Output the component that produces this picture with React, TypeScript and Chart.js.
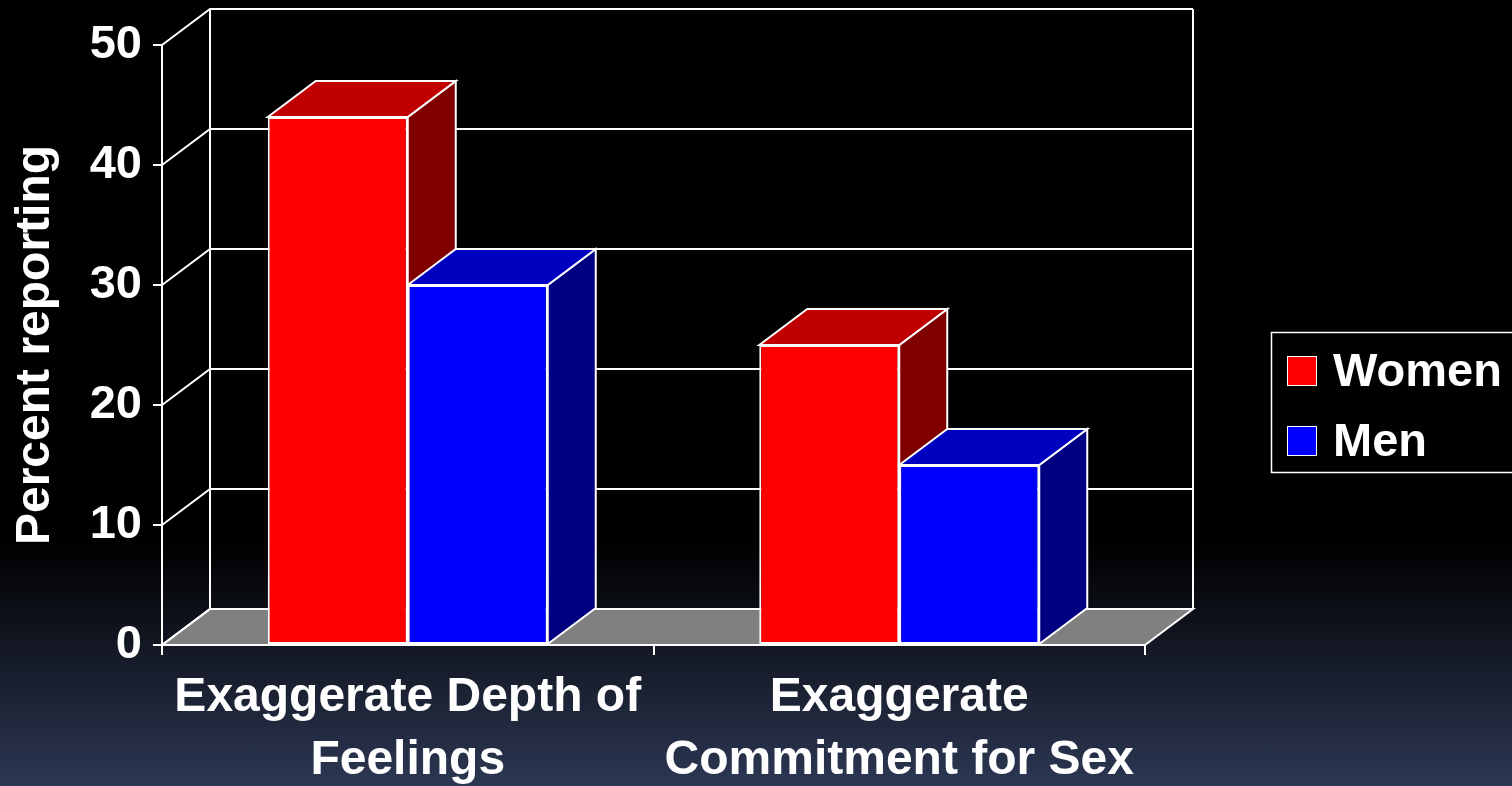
import React, { useEffect, useRef } from 'react';
import { Chart, registerables } from 'chart.js';

Chart.register(...registerables);

// ---- data ----
const categories: string[][] = [
  ['Exaggerate Depth of', 'Feelings'],
  ['Exaggerate', 'Commitment for Sex'],
];
const seriesNames = ['Women', 'Men'];
const womenValues = [44, 25];
const menValues = [30, 15];
const yTickValues = [0, 10, 20, 30, 40, 50];
const yAxisTitle = 'Percent reporting';

// ---- style ----
const FONT = "'Liberation Sans', Arial, Helvetica, sans-serif";
const DX = 48;
const DY = 36;
const faceColors = [
  { front: '#FF0000', top: '#C00000', side: '#800000' },
  { front: '#0000FF', top: '#0000C0', side: '#000080' },
];

const threeDPlugin = {
  id: 'threeD',
  beforeDatasetsDraw(chart: any) {
    const { ctx, chartArea } = chart;
    const { left, right } = chartArea;
    const yScale = chart.scales.y;
    ctx.save();
    ctx.strokeStyle = '#FFFFFF';
    ctx.lineWidth = 2;
    ctx.lineJoin = 'miter';

    // floor
    const y0 = yScale.getPixelForValue(0);
    ctx.beginPath();
    ctx.moveTo(left, y0);
    ctx.lineTo(left + DX, y0 - DY);
    ctx.lineTo(right + DX, y0 - DY);
    ctx.lineTo(right, y0);
    ctx.closePath();
    ctx.fillStyle = '#808080';
    ctx.fill();
    ctx.stroke();

    // side wall diagonals and back wall gridlines
    yTickValues.forEach((v) => {
      const py = yScale.getPixelForValue(v);
      ctx.beginPath();
      ctx.moveTo(left, py);
      ctx.lineTo(left + DX, py - DY);
      ctx.lineTo(right + DX, py - DY);
      ctx.stroke();
    });
    const yTop = yScale.getPixelForValue(yTickValues[yTickValues.length - 1]);
    ctx.beginPath();
    ctx.moveTo(left + DX, yTop - DY);
    ctx.lineTo(left + DX, y0 - DY);
    ctx.moveTo(right + DX, yTop - DY);
    ctx.lineTo(right + DX, y0 - DY);
    ctx.stroke();

    // bar top and side faces
    chart.data.datasets.forEach((ds: any, di: number) => {
      const meta = chart.getDatasetMeta(di);
      const col = faceColors[di];
      meta.data.forEach((bar: any) => {
        const { x, y, base, width } = bar.getProps(['x', 'y', 'base', 'width'], true);
        const x1 = x - width / 2;
        const x2 = x + width / 2;
        // side
        ctx.beginPath();
        ctx.moveTo(x2, y);
        ctx.lineTo(x2 + DX, y - DY);
        ctx.lineTo(x2 + DX, base - DY);
        ctx.lineTo(x2, base);
        ctx.closePath();
        ctx.fillStyle = col.side;
        ctx.fill();
        ctx.stroke();
        // top
        ctx.beginPath();
        ctx.moveTo(x1, y);
        ctx.lineTo(x1 + DX, y - DY);
        ctx.lineTo(x2 + DX, y - DY);
        ctx.lineTo(x2, y);
        ctx.closePath();
        ctx.fillStyle = col.top;
        ctx.fill();
        ctx.stroke();
      });
    });
    ctx.restore();
  },
  afterDraw(chart: any) {
    const { ctx } = chart;
    ctx.save();
    // legend box
    ctx.strokeStyle = '#FFFFFF';
    ctx.lineWidth = 1.5;
    ctx.strokeRect(1271.5, 332.5, 260, 140);
    ctx.font = `bold 47px ${FONT}`;
    ctx.textBaseline = 'middle';
    ctx.textAlign = 'left';
    chart.data.datasets.forEach((ds: any, di: number) => {
      const cy = 371 + di * 70;
      ctx.fillStyle = faceColors[di].front;
      ctx.fillRect(1287, cy - 15, 30, 30);
      ctx.lineWidth = 1;
      ctx.strokeRect(1287.5, cy - 14.5, 29, 29);
      ctx.fillStyle = '#FFFFFF';
      ctx.fillText(ds.label, 1333, cy + 2);
    });
    ctx.restore();
  },
};

export default function App() {
  const canvasRef = useRef<HTMLCanvasElement | null>(null);

  useEffect(() => {
    document.body.style.margin = '0';
    const canvas = canvasRef.current;
    if (!canvas) return;
    const chart = new Chart(canvas, {
      type: 'bar',
      data: {
        labels: categories as any,
        datasets: [
          {
            label: seriesNames[0],
            data: womenValues,
            backgroundColor: faceColors[0].front,
            borderColor: '#FFFFFF',
            borderWidth: 2,
            borderSkipped: false,
          },
          {
            label: seriesNames[1],
            data: menValues,
            backgroundColor: faceColors[1].front,
            borderColor: '#FFFFFF',
            borderWidth: 2,
            borderSkipped: false,
          },
        ],
      },
      options: {
        responsive: false,
        animation: false,
        devicePixelRatio: 1,
        layout: { padding: { top: 45, right: 367, left: 0, bottom: 0 } },
        datasets: { bar: { categoryPercentage: 0.5697, barPercentage: 1 } },
        plugins: {
          legend: { display: false },
          tooltip: { enabled: false },
        },
        scales: {
          x: {
            offset: true,
            grid: {
              display: true,
              offset: true,
              drawOnChartArea: false,
              drawTicks: true,
              tickLength: 10,
              color: '#FFFFFF',
              lineWidth: 2,
            },
            border: { display: true, color: '#FFFFFF', width: 2 },
            ticks: {
              color: '#FFFFFF',
              font: { family: FONT, size: 48, weight: 'bold', lineHeight: 1.3 },
              padding: 12,
              maxRotation: 0,
              autoSkip: false,
            },
            afterFit(scale: any) {
              scale.height = 141;
            },
          },
          y: {
            min: 0,
            max: 50,
            ticks: {
              stepSize: 10,
              color: '#FFFFFF',
              font: { family: FONT, size: 47, weight: 'bold' },
              padding: 11,
            },
            grid: {
              display: true,
              drawOnChartArea: false,
              drawTicks: true,
              tickLength: 9,
              color: '#FFFFFF',
              lineWidth: 2,
            },
            border: { display: true, color: '#FFFFFF', width: 2 },
            title: {
              display: true,
              text: yAxisTitle,
              color: '#FFFFFF',
              font: { family: FONT, size: 48, weight: 'bold', lineHeight: 1.2 },
              padding: { top: 7, bottom: 0 },
            },
            afterFit(scale: any) {
              scale.width = 162;
            },
          },
        },
      },
      plugins: [threeDPlugin],
    });
    return () => chart.destroy();
  }, []);

  return (
    <div
      style={{
        position: 'fixed',
        left: 0,
        top: 0,
        width: 1512,
        height: 786,
        background: 'linear-gradient(to bottom, #000000 0%, #000000 69%, #2c3753 100%)',
        overflow: 'hidden',
      }}
    >
      <canvas ref={canvasRef} width={1512} height={786} style={{ display: 'block' }} />
    </div>
  );
}
